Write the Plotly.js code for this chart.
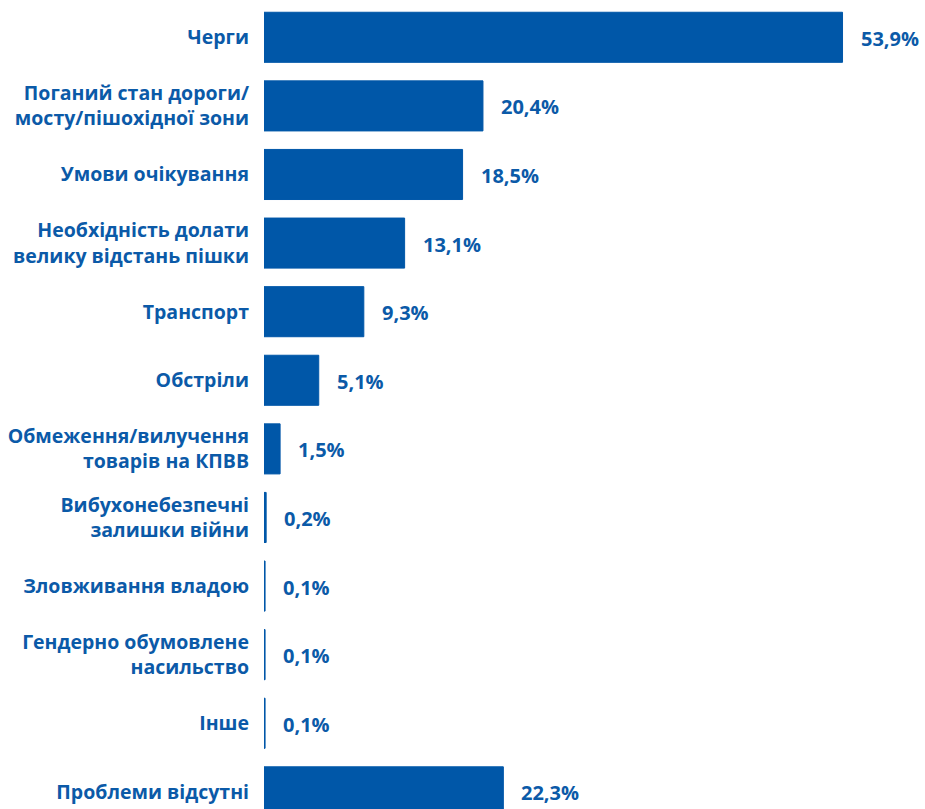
<!DOCTYPE html>
<html><head><meta charset="utf-8">
<script src="https://cdn.plot.ly/plotly-3.0.1.min.js"></script>
<style>html,body{margin:0;padding:0;background:#fff}</style>
</head><body><div id="chart" style="width:925px;height:809px"></div>
<script>
const categories = [
  "Черги",
  "Поганий стан дороги/<br>мосту/пішохідної зони",
  "Умови очікування",
  "Необхідність долати<br>велику відстань пішки",
  "Транспорт",
  "Обстріли",
  "Обмеження/вилучення<br>товарів на КПВВ",
  "Вибухонебезпечні<br>залишки війни",
  "Зловживання владою",
  "Гендерно обумовлене<br>насильство",
  "Інше",
  "Проблеми відсутні"
];
const values = [53.9, 20.4, 18.5, 13.1, 9.3, 5.1, 1.5, 0.2, 0.1, 0.1, 0.1, 22.3];
const labels = ["53,9%","20,4%","18,5%","13,1%","9,3%","5,1%","1,5%","0,2%","0,1%","0,1%","0,1%","22,3%"];

const blue = "#0057a8";
const textBlue = "#0b5aa8";
const font = "'Open Sans', sans-serif";

const trace = {
  type: "bar", orientation: "h",
  x: values, y: categories,
  marker: {color: blue, line: {color: blue, width: 1}},
  hoverinfo: "none"
};

const annotations = values.map((v, i) => ({
  x: v, y: categories[i], xref: "x", yref: "y",
  text: labels[i], showarrow: false,
  xanchor: "left", xshift: 16, yshift: -1,
  font: {family: font, size: 20, color: textBlue, weight: "bold"}
}));

const layout = {
  width: 925, height: 809,
  margin: {l: 264, r: 17, t: 3, b: 0},
  paper_bgcolor: "#fff", plot_bgcolor: "#fff",
  bargap: 0.27,
  showlegend: false,
  xaxis: {range: [0, 60], visible: false, fixedrange: true},
  yaxis: {
    type: "category",
    range: [11.25, -0.5], autorange: false,
    showgrid: false, zeroline: false, showline: false,
    ticks: "", ticklabelstandoff: 14,
    tickfont: {family: font, size: 19.5, color: textBlue, weight: "bold"}
  },
  annotations: annotations
};

Plotly.newPlot("chart", [trace], layout, {displayModeBar: false, staticPlot: true});
</script></body></html>
